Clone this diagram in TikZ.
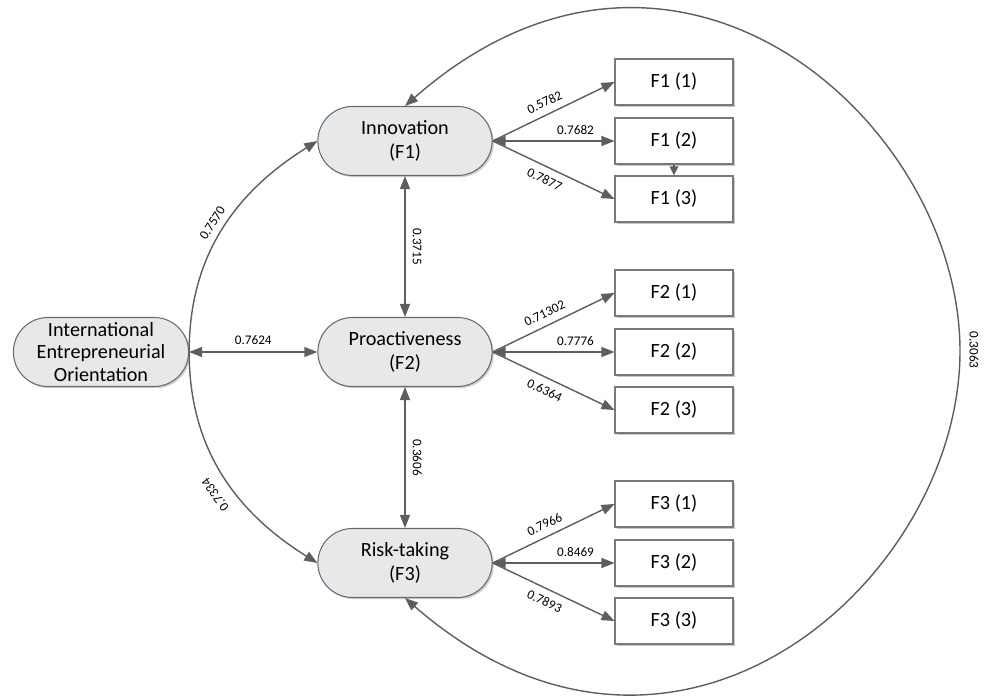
\documentclass[tikz,border=0pt]{standalone}
\usepackage{fontspec}
\setmainfont{Carlito}
\usetikzlibrary{arrows.meta,shapes.misc,shadows}

\definecolor{lineg}{HTML}{5E5E5E}
\definecolor{pillg}{HTML}{E7E8EA}
\definecolor{edgeg}{HTML}{6A6A6A}

\tikzset{
  factor/.style={rounded rectangle, draw=edgeg, fill=pillg, line width=0.6pt,
    minimum width=3.72cm, minimum height=1.38cm, align=center,
    font=\fontsize{11.5}{14}\selectfont,
    drop shadow={shadow xshift=1pt, shadow yshift=-1pt, fill=black!18, opacity=1}},
  item/.style={rectangle, draw=edgeg!90, fill=white, line width=0.6pt,
    minimum width=2.36cm, minimum height=0.92cm,
    font=\fontsize{11.5}{14}\selectfont,
    drop shadow={shadow xshift=1.2pt, shadow yshift=-1.2pt, fill=black!22, opacity=1}},
  link/.style={draw=lineg, line width=0.8pt, -{Triangle[length=2.6mm,width=2mm]}},
  rlink/.style={draw=lineg, line width=0.8pt, {Triangle[length=2.6mm,width=2mm]}-},
  both/.style={draw=lineg, line width=0.8pt, {Triangle[length=2.6mm,width=2mm]}-{Triangle[length=2.6mm,width=2mm]}},
  wt/.style={font=\fontsize{7.5}{9}\selectfont, sloped, inner sep=1pt}
}

\begin{document}
\begin{tikzpicture}[x=0.02cm, y=0.02cm]
    \useasboundingbox (0,0) rectangle (988,696);

    % latent factors
    \node[factor] (inno) at (405,555) {Innovation\\(F1)};
    \node[factor] (pro) at (405,344) {Proactiveness\\(F2)};
    \node[factor] (risk) at (405,133) {Risk-taking\\(F3)};
    \node[factor, minimum width=3.74cm, inner ysep=1pt, font=\fontsize{11.5}{13}\selectfont] (ieo) at (101,344)
        {International\\Entrepreneurial\\Orientation};
    \coordinate (rgt) at (960,345);

    % indicators of each factor
    \foreach \g/\yy/\src/\wa/\wb/\wc in {1/555/inno/0.5782/0.7682/0.7877,
                                         2/344/pro/0.71302/0.7776/0.6364,
                                         3/133/risk/0.7966/0.8469/0.7893} {
        \node[item] (i\g1) at (674,\yy+59) {F\g\ (1)};
        \node[item] (i\g2) at (674,\yy) {F\g\ (2)};
        \node[item] (i\g3) at (674,\yy-58) {F\g\ (3)};
        \draw[link] (\src.east) -- node[wt, above=3pt, pos=.47] {\wa} (i\g1.west);
        \draw[both] (\src.east) -- node[wt, above=2pt, pos=.68] {\wb} (i\g2.west);
        \draw[link] (\src.east) -- node[wt, below=3pt, pos=.47] {\wc} (i\g3.west);
    }
    \draw[draw=lineg, line width=0.8pt, -{Triangle[length=1.8mm,width=1.7mm]}] (i12.south) -- (i13.north);

    % links between factors
    \draw[both] (inno.south) -- node[wt, allow upside down, above=3pt] {0.3715} (pro.north);
    \draw[both] (pro.south) -- node[wt, allow upside down, above=3pt] {0.3606} (risk.north);
    \draw[both] (ieo.east) -- node[wt, above=3pt] {0.7624} (pro.west);

    % second order paths
    \draw[link] (ieo.east) to[out=90, in=212] node[wt, above=3pt, pos=.5] {0.7570} (inno.west);
    \draw[rlink] (risk.west) to[out=148, in=-90] node[wt, allow upside down, above=6pt, pos=.45] {0.7334} (ieo.east);

    % outer correlation
    \draw[both] (inno.north) .. controls (675,827) and (960,575) .. (rgt)
        node[wt, allow upside down, above=4pt, pos=.999] {0.3063}
        .. controls (960,115) and (675,-137) .. (risk.south);
\end{tikzpicture}
\end{document}
